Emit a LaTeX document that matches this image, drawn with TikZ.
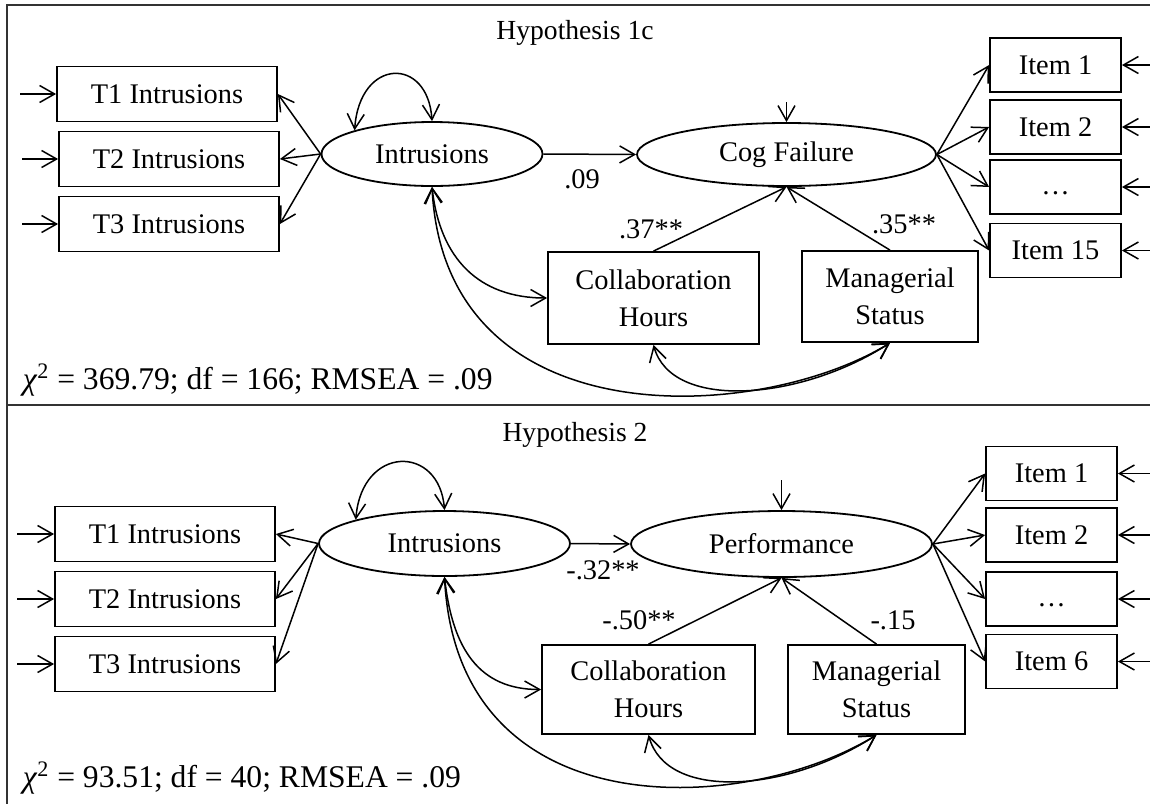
\documentclass[tikz,border=0pt]{standalone}
\usepackage{fontspec}
\setmainfont{Liberation Serif}
\usetikzlibrary{arrows.meta,shapes.geometric}
\begin{document}
\begin{tikzpicture}[x=0.5pt,y=-0.5pt,
  font=\fontsize{14.2}{18.3}\selectfont,
  line width=0.75pt,
  >={Straight Barb[length=7.5pt,width=8.5pt]},
  obs/.style={draw,rectangle,inner sep=0pt,align=center,line width=0.9pt},
  lat/.style={draw,ellipse,inner sep=0pt,line width=0.9pt},
  tbox/.style={obs,minimum width=110pt,minimum height=27.5pt},
  ibox/.style={obs,minimum width=65.5pt,minimum height=27pt},
  lbl/.style={inner sep=0pt},
  ttl/.style={inner sep=0pt,font=\fontsize{13.8}{16}\selectfont},
  fit/.style={inner sep=0pt,anchor=west,font=\fontsize{15.8}{19}\selectfont},
  panel/.style={line width=1pt,black!80}
]
\useasboundingbox (0,0) rectangle (1150,804);

% panel frame
\draw[panel] (1150,5) -- (7,5) -- (7,804);
\draw[panel] (7,405) -- (1150,405);

% ---------------- Hypothesis 1c ----------------
\node[ttl] (h1) at (575,33) {Hypothesis 1c};

\node[tbox] (t1a) at (167,94) {T1 Intrusions};
\node[tbox] (t2a) at (169,159) {T2 Intrusions};
\node[tbox] (t3a) at (169,224) {T3 Intrusions};

\node[lat,minimum width=110.5pt,minimum height=32pt] (ia) at (432,154) {Intrusions};
\node[lat,minimum width=149.5pt,minimum height=31.5pt] (cfa) at (786.5,154.5) {Cog Failure};

\node[obs,minimum width=105.5pt,minimum height=46pt] (ca) at (653.5,298) {Collaboration\\Hours};
\node[obs,minimum width=88pt,minimum height=45.5pt] (ma) at (890,296.5) {Managerial\\Status};

\node[ibox] (i1a) at (1055.5,65) {Item 1};
\node[ibox] (i2a) at (1055.5,127) {Item 2};
\node[ibox] (i3a) at (1055.5,187) {\strut…};
\node[ibox] (i4a) at (1055.5,250.5) {Item 15};

% error terms
\foreach \n in {t1a,t2a,t3a} \draw[->] ([xshift=-18pt]\n.west) -- (\n.west);
\foreach \n in {i1a,i2a,i3a,i4a} \draw[->] ([xshift=15pt]\n.east) -- (\n.east);
\draw[->] ([yshift=10pt]cfa.north) -- (cfa.north);

% loadings
\foreach \n in {t1a,t2a,t3a} \draw[->] (ia.west) -- (\n.east);
\foreach \n in {i1a,i2a,i3a,i4a} \draw[->] (cfa.east) -- (\n.west);

% structural paths
\draw[->] (ia.east) -- (cfa.west);
\draw[->] (ca.north) -- (cfa.south);
\draw[->] (ma.north) -- (cfa.south);

% variance and covariances
\draw[<->] (ia.163) .. controls +(5,-73) and +(-4,-65) .. (ia.north);
\draw[<->] (ia.south) .. controls +(8,72) and +(-68,0) .. (ca.west);
\draw[<->] (ia.south) .. controls +(13,254) and +(-131,80) .. (ma.south);
\draw[<->] (ca.south) .. controls +(18,66) and +(-90,58) .. (ma.south);

\node[lbl] (c09) at (582,179) {.09};
\node[lbl] (c37) at (651,229) {.37**};
\node[lbl] (c35) at (904,224) {.35**};
\node[fit] (fita) at (22,380) {\textit{χ}\textsuperscript{2} = 369.79; df = 166; RMSEA = .09};

% ---------------- Hypothesis 2 ----------------
\node[ttl] (h2) at (575,435) {Hypothesis 2};

\node[tbox] (t1b) at (165,534) {T1 Intrusions};
\node[tbox] (t2b) at (165,599) {T2 Intrusions};
\node[tbox] (t3b) at (165,664) {T3 Intrusions};

\node[lat,minimum width=125.5pt,minimum height=32.5pt] (ib) at (444.5,543.5) {Intrusions};
\node[lat,minimum width=150.5pt,minimum height=33pt] (pb) at (781.5,544) {Performance};

\node[obs,minimum width=106.5pt,minimum height=44.5pt] (cb) at (648.5,689.5) {Collaboration\\Hours};
\node[obs,minimum width=88.5pt,minimum height=44.5pt] (mb) at (876.5,689.5) {Managerial\\Status};

\node[ibox] (i1b) at (1051.5,473.5) {Item 1};
\node[ibox] (i2b) at (1051.5,535) {Item 2};
\node[ibox] (i3b) at (1051.5,599) {\strut…};
\node[ibox] (i4b) at (1051.5,661.5) {Item 6};

% error terms
\foreach \n in {t1b,t2b,t3b} \draw[->] ([xshift=-18.5pt]\n.west) -- (\n.west);
\foreach \n in {i1b,i2b,i3b,i4b} \draw[->] ([xshift=17pt]\n.east) -- (\n.east);
\draw[->] ([yshift=15pt]pb.north) -- (pb.north);

% loadings
\foreach \n in {t1b,t2b,t3b} \draw[->] (ib.west) -- (\n.east);
\foreach \n in {i1b,i2b,i3b,i4b} \draw[->] (pb.east) -- (\n.west);

% structural paths
\draw[->] (ib.east) -- (pb.west);
\draw[->] (cb.north) -- (pb.south);
\draw[->] (mb.north) -- (pb.south);

% variance and covariances
\draw[<->] (ib.165) .. controls +(6,-75) and +(-5,-66) .. (ib.north);
\draw[<->] (ib.south) .. controls +(8,72) and +(-62,0) .. (cb.west);
\draw[<->] (ib.south) .. controls +(13,254) and +(-131,80) .. (mb.south);
\draw[<->] (cb.south) .. controls +(18,66) and +(-90,58) .. (mb.south);

\node[lbl] (c32) at (603,570) {-.32**};
\node[lbl] (c50) at (639,620) {-.50**};
\node[lbl] (c15) at (893,620) {-.15};
\node[fit] (fitb) at (22,778) {\textit{χ}\textsuperscript{2} = 93.51; df = 40; RMSEA = .09};
\end{tikzpicture}
\end{document}
